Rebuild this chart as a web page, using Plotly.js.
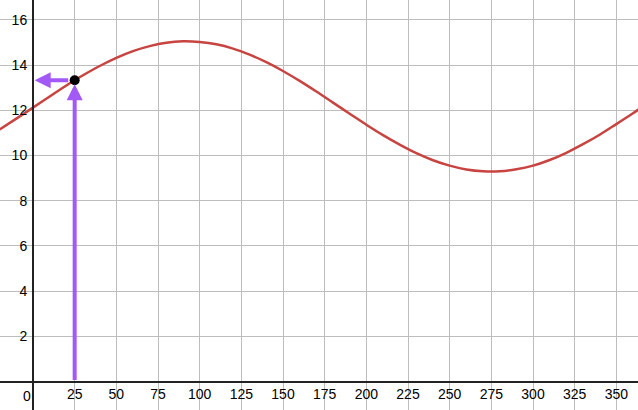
<!DOCTYPE html>
<html>
<head>
<meta charset="utf-8">
<script src="https://cdn.plot.ly/plotly-3.0.1.min.js"></script>
<style>html,body{margin:0;padding:0;background:#fff;}#chart{width:638px;height:410px;}</style>
</head>
<body>
<div id="chart"></div>
<script>
// Curve values
const dayX = [-20,-10,0,10,20,25,30,40,50,60,70,80,90,100,110,120,130,140,150,160,170,180,190,200,210,220,230,240,250,260,270,280,290,300,310,320,330,340,350,360,365];
const valueY = [11.15,11.63,12.12,12.61,13.10,13.33,13.55,13.96,14.32,14.62,14.84,14.99,15.05,15.02,14.92,14.73,14.46,14.13,13.74,13.30,12.83,12.34,11.85,11.36,10.90,10.48,10.10,9.79,9.55,9.38,9.30,9.30,9.39,9.55,9.80,10.12,10.50,10.92,11.39,11.87,12.12];
// Highlighted point
const pointX = [25];
const pointY = [13.33];
// Tick labels
const xTicks = [25,50,75,100,125,150,175,200,225,250,275,300,325,350];
const yTicks = [2,4,6,8,10,12,14,16];

const xRange = [-19.8, 363];
const yRange = [-1.26, 16.88];
const purple = '#a259f5';

const traces = [
  {x: dayX, y: valueY, mode: 'lines', line: {color: '#c74440', width: 2.5, shape: 'spline'}, hoverinfo: 'skip'},
  {x: pointX, y: pointY, mode: 'markers', marker: {color: '#000', size: 10}, hoverinfo: 'skip'}
];

const font = {family: '"Liberation Sans", Arial, sans-serif', size: 14, color: '#000'};

const layout = {
  width: 638, height: 410,
  margin: {l: 0, r: 0, t: 0, b: 0},
  paper_bgcolor: '#fff', plot_bgcolor: '#fff',
  showlegend: false,
  font: font,
  xaxis: {
    range: xRange, tickvals: xTicks, ticktext: xTicks.map(String),
    showgrid: true, gridcolor: '#bdbdbd', gridwidth: 1,
    zeroline: false, showline: true, linecolor: '#222', linewidth: 2,
    anchor: 'free', position: (0 - yRange[0]) / (yRange[1] - yRange[0]),
    ticks: '', tickfont: font, fixedrange: true
  },
  yaxis: {
    range: yRange, tickvals: yTicks, ticktext: yTicks.map(String),
    showgrid: true, gridcolor: '#bdbdbd', gridwidth: 1,
    zeroline: false, showline: true, linecolor: '#222', linewidth: 2,
    anchor: 'free', position: (0 - xRange[0]) / (xRange[1] - xRange[0]),
    ticks: '', tickfont: font, ticklabelstandoff: 2, fixedrange: true
  },
  annotations: [
    {x: pointX[0], y: pointY[0], ax: pointX[0], ay: 0, xref: 'x', yref: 'y', axref: 'x', ayref: 'y',
     text: '', showarrow: true, arrowhead: 2, arrowsize: 0.8, arrowwidth: 4, arrowcolor: purple, standoff: 4},
    {x: 1, y: pointY[0], ax: pointX[0], ay: pointY[0], xref: 'x', yref: 'y', axref: 'x', ayref: 'y',
     text: '', showarrow: true, arrowhead: 2, arrowsize: 0.8, arrowwidth: 4, arrowcolor: purple, startstandoff: 5},
    {x: 0, y: 0, xref: 'x', yref: 'y', text: '0', showarrow: false, xanchor: 'right', yanchor: 'top',
     xshift: 0, yshift: -4, font: font}
  ]
};

Plotly.newPlot('chart', traces, layout, {displayModeBar: false, staticPlot: true});
</script>
</body>
</html>
